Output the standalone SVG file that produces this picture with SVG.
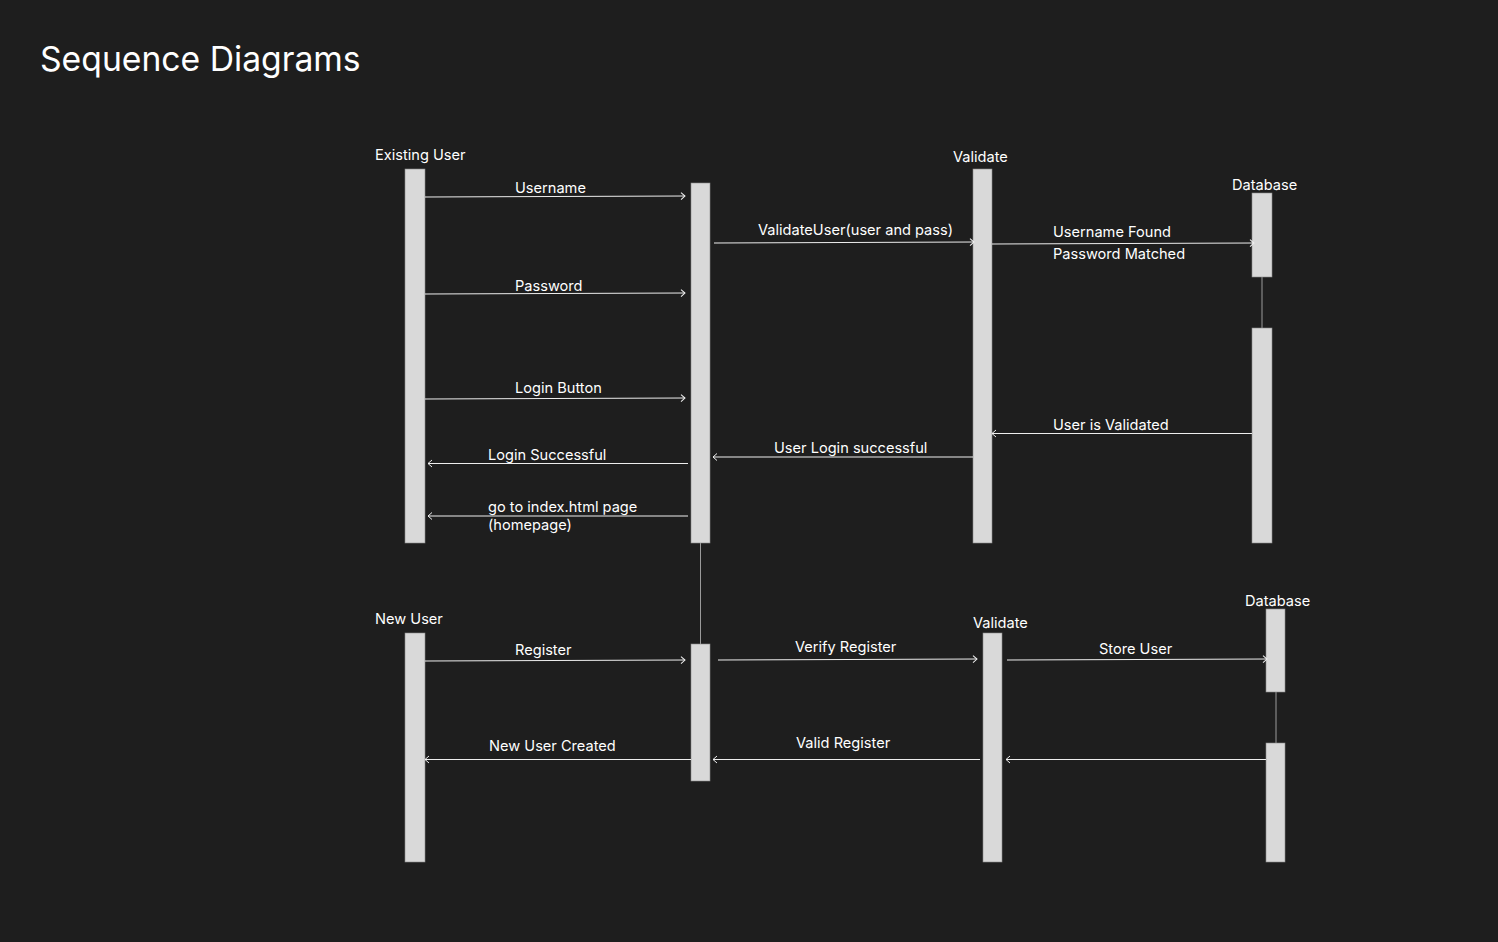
<svg xmlns="http://www.w3.org/2000/svg" width="1498" height="942" viewBox="0 0 1498 942">
<defs>
<marker id="ah" markerWidth="8" markerHeight="10" refX="5" refY="4" orient="auto" markerUnits="userSpaceOnUse">
<path d="M1,0.5 L5,4 L1,7.5" fill="none" stroke="#eeeeee" stroke-width="1"/>
</marker>
</defs>
<style>
.bar{fill:#d9d9d9;stroke:#8a8a8a;stroke-width:0.6}
.lbl{font-family:Inter,"Liberation Sans",sans-serif;font-size:14.6px;fill:#ffffff}
.msg{stroke:#eeeeee;stroke-width:1;fill:none;marker-end:url(#ah)}
.life{stroke:#9a9a9a;stroke-width:1}
</style>
<rect width="1498" height="942" fill="#1e1e1e"/>
<text x="40" y="71" font-family="Inter,'Liberation Sans',sans-serif" font-size="33.7" fill="#ffffff">Sequence Diagrams</text>

<g id="lifelines">
<line class="life" x1="700.5" y1="543" x2="700.5" y2="644"/>
<line class="life" x1="1262" y1="277" x2="1262" y2="328"/>
<line class="life" x1="1276" y1="692" x2="1276" y2="743"/>
</g>

<g id="existing-user"><text class="lbl" x="375" y="160">Existing User</text><rect class="bar" x="405" y="169" width="20" height="374"/></g>
<g id="interface"><rect class="bar" x="691" y="183" width="19" height="360"/></g>
<g id="validate"><text class="lbl" x="953" y="162">Validate</text><rect class="bar" x="973" y="169" width="19" height="374"/></g>
<g id="database"><text class="lbl" x="1232" y="190">Database</text><rect class="bar" x="1252" y="193" width="20" height="84"/><rect class="bar" x="1252" y="328" width="20" height="215"/></g>

<g id="new-user"><text class="lbl" x="375" y="624">New User</text><rect class="bar" x="405" y="633" width="20" height="229"/></g>
<g id="interface2"><rect class="bar" x="691" y="644" width="19" height="137"/></g>
<g id="validate2"><text class="lbl" x="973" y="628">Validate</text><rect class="bar" x="983" y="633" width="19" height="229"/></g>
<g id="database2"><text class="lbl" x="1245" y="606">Database</text><rect class="bar" x="1266" y="609" width="19" height="83"/><rect class="bar" x="1266" y="743" width="19" height="119"/></g>

<g id="connectors">
<line class="msg" x1="425" y1="197" x2="685" y2="196"/>
<line class="msg" x1="714" y1="243" x2="974" y2="242"/>
<line class="msg" x1="992" y1="244" x2="1254" y2="243"/>
<line class="msg" x1="425" y1="294" x2="685" y2="293"/>
<line class="msg" x1="425" y1="399" x2="685" y2="398"/>
<line class="msg" x1="1252" y1="433.5" x2="992" y2="433.5"/>
<line class="msg" x1="973" y1="457" x2="713" y2="457"/>
<line class="msg" x1="688" y1="463.5" x2="428" y2="463.5"/>
<line class="msg" x1="688" y1="516" x2="428" y2="516"/>
<line class="msg" x1="425" y1="661" x2="685" y2="660"/>
<line class="msg" x1="718" y1="660" x2="977" y2="659"/>
<line class="msg" x1="1007" y1="660" x2="1267" y2="659"/>
<line class="msg" x1="1266" y1="759.5" x2="1006" y2="759.5"/>
<line class="msg" x1="980" y1="759.5" x2="713" y2="759.5"/>
<line class="msg" x1="691" y1="759.5" x2="425" y2="759.5"/>
</g>

<g id="labels">
<text class="lbl" x="515" y="193">Username</text>
<text class="lbl" x="758" y="235">ValidateUser(user and pass)</text>
<text class="lbl" x="1053" y="237">Username Found</text>
<text class="lbl" x="1053" y="259">Password Matched</text>
<text class="lbl" x="515" y="291">Password</text>
<text class="lbl" x="515" y="393">Login Button</text>
<text class="lbl" x="1053" y="430">User is Validated</text>
<text class="lbl" x="774" y="453">User Login successful</text>
<text class="lbl" x="488" y="460">Login Successful</text>
<text class="lbl" x="488" y="512">go to index.html page</text>
<text class="lbl" x="488" y="530">(homepage)</text>
<text class="lbl" x="515" y="655">Register</text>
<text class="lbl" x="795" y="652">Verify Register</text>
<text class="lbl" x="1099" y="654">Store User</text>
<text class="lbl" x="796" y="748">Valid Register</text>
<text class="lbl" x="489" y="751">New User Created</text>
</g>
</svg>
